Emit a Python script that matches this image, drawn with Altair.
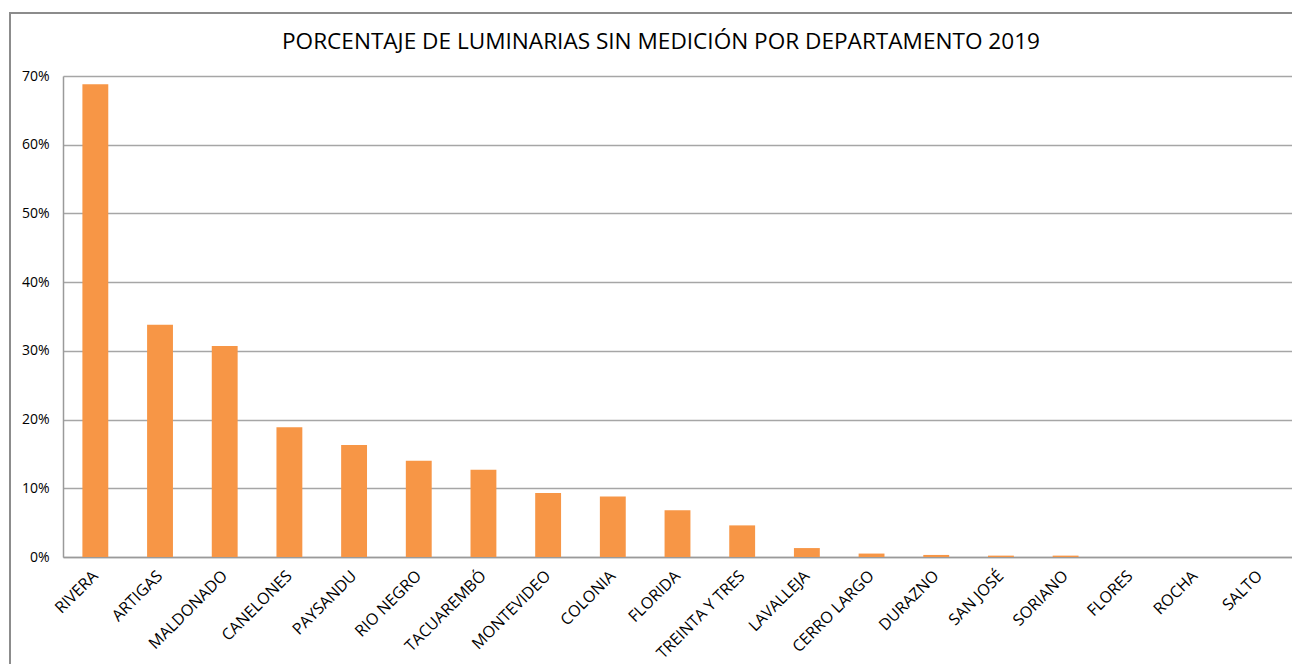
import altair as alt
import pandas as pd

departamentos = ["RIVERA", "ARTIGAS", "MALDONADO", "CANELONES", "PAYSANDU", "RIO NEGRO",
                 "TACUAREMBÓ", "MONTEVIDEO", "COLONIA", "FLORIDA", "TREINTA Y TRES",
                 "LAVALLEJA", "CERRO LARGO", "DURAZNO", "SAN JOSÉ", "SORIANO",
                 "FLORES", "ROCHA", "SALTO"]
porcentajes = [0.688, 0.338, 0.307, 0.189, 0.163, 0.140, 0.127, 0.093, 0.088, 0.068,
               0.046, 0.013, 0.005, 0.003, 0.002, 0.002, 0.0, 0.0, 0.0]
y_ticks = [0, 0.1, 0.2, 0.3, 0.4, 0.5, 0.6, 0.7]
titulo = "PORCENTAJE DE LUMINARIAS SIN MEDICIÓN POR DEPARTAMENTO 2019"

df = pd.DataFrame({"dep": departamentos, "pct": porcentajes})

FONT = "Open Sans"

bars = alt.Chart(df).mark_bar(color="#F79646").encode(
    x=alt.X("dep:N", sort=departamentos, title=None,
            scale=alt.Scale(paddingInner=0.6, paddingOuter=0.3),
            axis=alt.Axis(labelAngle=-45, labelAlign="right", labelBaseline="middle",
                          labelPadding=16, ticks=False, domain=True, domainColor="#9a9a9a",
                          domainWidth=1.5, labelFont=FONT, labelFontSize=16,
                          labelColor="#000000", grid=False, labelOverlap=False,
                          labelLimit=300)),
    y=alt.Y("pct:Q", title=None,
            scale=alt.Scale(domain=[0, 0.7], nice=False),
            axis=alt.Axis(values=y_ticks, format=".0%", ticks=False, domain=True,
                          domainColor="#9a9a9a", domainWidth=1.5, grid=True,
                          gridColor="#a6a6a6", gridWidth=1.5, labelPadding=14,
                          labelFont=FONT, labelFontSize=14, labelColor="#000000")),
)

border = alt.Chart(df).mark_rect(fill=None, stroke="#8c8c8c", strokeWidth=1.5).encode(
    x=alt.value(-53), x2=alt.value(1300), y=alt.value(-63), y2=alt.value(700)
)

title = alt.Chart(pd.DataFrame({"t": [titulo]})).mark_text(
    font=FONT, fontSize=22.6, fontWeight=500, color="#000000",
    align="center", baseline="middle"
).encode(text="t:N", x=alt.value(598), y=alt.value(-34))

chart = alt.layer(border, bars, title).properties(
    width=1229, height=481,
    autosize=alt.AutoSizeParams(type="none"),
    padding={"left": 55, "top": 68, "right": 0, "bottom": 107},
    background="white",
).configure_view(stroke=None)

chart.save("out.html", embed_options={"renderer": "svg", "actions": False})
